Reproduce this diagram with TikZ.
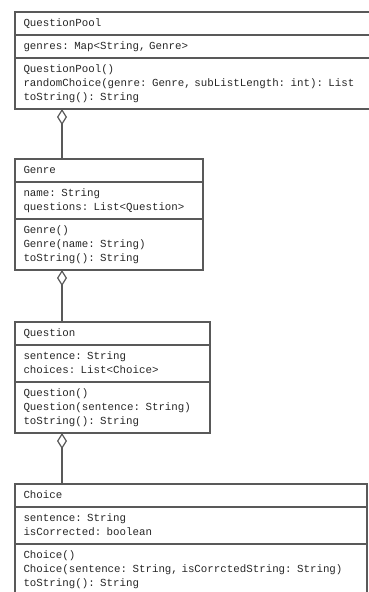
\documentclass[tikz,border=0pt]{standalone}
\usepackage{fontspec}
\setmonofont{Liberation Mono}
\usetikzlibrary{arrows.meta}

\begin{document}
\begin{tikzpicture}[x=1pt, y=-1pt,
  compart/.style={draw=black!65, line width=1.2pt, align=left, anchor=north west,
    outer sep=0pt, inner xsep=8.5pt, inner ysep=4.5pt, text=black!85,
    font=\ttfamily\fontsize{10.8}{14}\selectfont},
  agg/.style={draw=black!65, line width=1.2pt, {Diamond[open,length=16pt,width=10pt]}-}]
\useasboundingbox (0,0) rectangle (368,592);
% QuestionPool
\node[compart, text width=347pt] (pooltitle) at (15,12) {\strut QuestionPool};
\node[compart, text width=347pt] (poolattr) at (pooltitle.south west) {\strut genres: Map<String, Genre>};
\node[compart, text width=347pt] (poolops) at (poolattr.south west) {\strut QuestionPool()\\
  randomChoice(genre: Genre, subListLength: int): List\\
  toString(): String\strut};
% Genre
\node[compart, text width=171pt] (genretitle) at (15,159) {\strut Genre};
\node[compart, text width=171pt] (genreattr) at (genretitle.south west) {\strut name: String\\
  questions: List<Question>\strut};
\node[compart, text width=171pt] (genreops) at (genreattr.south west) {\strut Genre()\\
  Genre(name: String)\\
  toString(): String\strut};
% Question
\node[compart, text width=178pt] (questiontitle) at (15,322) {\strut Question};
\node[compart, text width=178pt] (questionattr) at (questiontitle.south west) {\strut sentence: String\\
  choices: List<Choice>\strut};
\node[compart, text width=178pt] (questionops) at (questionattr.south west) {\strut Question()\\
  Question(sentence: String)\\
  toString(): String\strut};
% Choice
\node[compart, text width=335pt] (choicetitle) at (15,484) {\strut Choice};
\node[compart, text width=335pt] (choiceattr) at (choicetitle.south west) {\strut sentence: String\\
  isCorrected: boolean\strut};
\node[compart, text width=335pt] (choiceops) at (choiceattr.south west) {\strut Choice()\\
  Choice(sentence: String, isCorrctedString: String)\\
  toString(): String\strut};
% Aggregations
\coordinate (lane) at (62,0);
\draw[agg] (poolops.south -| lane) -- (genretitle.north -| lane);
\draw[agg] (genreops.south -| lane) -- (questiontitle.north -| lane);
\draw[agg] (questionops.south -| lane) -- (choicetitle.north -| lane);
\end{tikzpicture}
\end{document}
